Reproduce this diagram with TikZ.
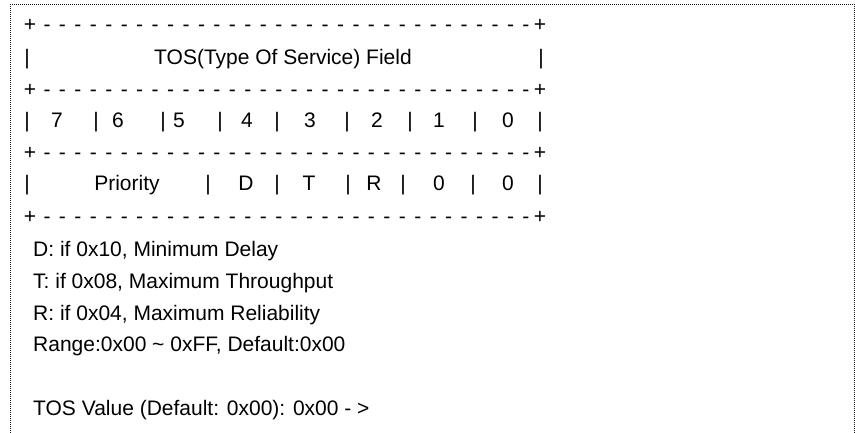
\documentclass[tikz,border=0pt]{standalone}
\usepackage{fontspec}
\setmainfont{Liberation Sans}

\tikzset{
  ascii/.style={inner sep=0pt, anchor=base, font=\fontsize{21}{25}\selectfont},
  note/.style={ascii, anchor=base west},
  frameline/.style={black!90, line width=1pt, dash pattern=on 1pt off 1pt}
}

\begin{document}
\begin{tikzpicture}[x=1pt, y=-1pt]
  \useasboundingbox (0,0) rectangle (855,433);
  \draw [frameline] (10,433) -- (10,4.5) -- (854,4.5) -- (854,433);
  \foreach \r/\y in {a/32, b/97, c/160, d/224} {
    \node [ascii] (plus-l-\r) at (30,\y) {+};
    \node [ascii] (plus-r-\r) at (540,\y) {+};
    \foreach \i in {0,...,31}
      \node [ascii] (dash-\r-\i) at (47+15.45*\i,\y) {-};
  }
  \node [ascii] (bar-t-l) at (27,65) {|};
  \node [ascii] (title) at (283,65) {TOS(Type Of Service) Field};
  \node [ascii] (bar-t-r) at (541,65) {|};
  \foreach \x [count=\i] in {27,96,163,220,277,347,410,475,540}
    \node [ascii] (bar-b-\i) at (\x,128) {|};
  \foreach \x/\t [count=\i] in {57/7,118/6,179/5,247/4,310/3,377/2,439/1,508/0}
    \node [ascii] (bit-\i) at (\x,128) {\t};
  \foreach \x [count=\i] in {27,208,277,348,403,473,540}
    \node [ascii] (bar-f-\i) at (\x,191) {|};
  \foreach \x/\t [count=\i] in {127/Priority,246/D,309/T,374/R,439/0,508/0}
    \node [ascii] (flag-\i) at (\x,191) {\t};
  \node [note] (delay) at (33,256) {D: if 0x10, Minimum Delay};
  \node [note] (thru) at (33,288) {T: if 0x08, Maximum Throughput};
  \node [note] (reli) at (33,320) {R: if 0x04, Maximum Reliability};
  \node [note] (range) at (33,351) {Range:0x00 \textasciitilde{} 0xFF, Default:0x00};
  \node [note] (value) at (33,415) {TOS Value (Default: 0x00): 0x00 - >};
\end{tikzpicture}
\end{document}
